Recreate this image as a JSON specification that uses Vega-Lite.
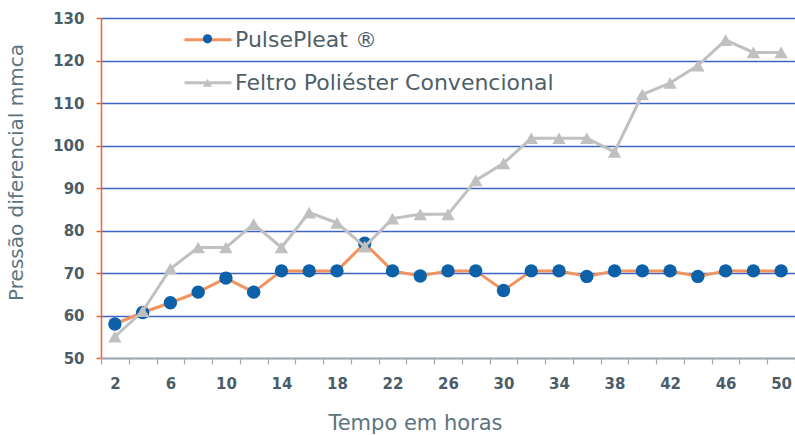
{
  "$schema": "https://vega.github.io/schema/vega-lite/v6.json",
  "width": 694,
  "height": 340,
  "autosize": {"type": "none"},
  "padding": {"left": 101, "top": 18, "right": 0, "bottom": 77},
  "config": {
    "view": {"stroke": null},
    "font": "DejaVu Sans"
  },
  "data": {
    "values": [
      {"t": 2, "serie": "PulsePleat ®", "v": 58},
      {"t": 4, "serie": "PulsePleat ®", "v": 60.7},
      {"t": 6, "serie": "PulsePleat ®", "v": 63},
      {"t": 8, "serie": "PulsePleat ®", "v": 65.5},
      {"t": 10, "serie": "PulsePleat ®", "v": 68.8},
      {"t": 12, "serie": "PulsePleat ®", "v": 65.5},
      {"t": 14, "serie": "PulsePleat ®", "v": 70.5},
      {"t": 16, "serie": "PulsePleat ®", "v": 70.5},
      {"t": 18, "serie": "PulsePleat ®", "v": 70.5},
      {"t": 20, "serie": "PulsePleat ®", "v": 77},
      {"t": 22, "serie": "PulsePleat ®", "v": 70.5},
      {"t": 24, "serie": "PulsePleat ®", "v": 69.3},
      {"t": 26, "serie": "PulsePleat ®", "v": 70.5},
      {"t": 28, "serie": "PulsePleat ®", "v": 70.5},
      {"t": 30, "serie": "PulsePleat ®", "v": 65.9},
      {"t": 32, "serie": "PulsePleat ®", "v": 70.5},
      {"t": 34, "serie": "PulsePleat ®", "v": 70.5},
      {"t": 36, "serie": "PulsePleat ®", "v": 69.2},
      {"t": 38, "serie": "PulsePleat ®", "v": 70.5},
      {"t": 40, "serie": "PulsePleat ®", "v": 70.5},
      {"t": 42, "serie": "PulsePleat ®", "v": 70.5},
      {"t": 44, "serie": "PulsePleat ®", "v": 69.2},
      {"t": 46, "serie": "PulsePleat ®", "v": 70.5},
      {"t": 48, "serie": "PulsePleat ®", "v": 70.5},
      {"t": 50, "serie": "PulsePleat ®", "v": 70.5},
      {"t": 2, "serie": "Feltro Poliéster Convencional", "v": 55},
      {"t": 4, "serie": "Feltro Poliéster Convencional", "v": 61},
      {"t": 6, "serie": "Feltro Poliéster Convencional", "v": 71},
      {"t": 8, "serie": "Feltro Poliéster Convencional", "v": 76},
      {"t": 10, "serie": "Feltro Poliéster Convencional", "v": 76},
      {"t": 12, "serie": "Feltro Poliéster Convencional", "v": 81.5},
      {"t": 14, "serie": "Feltro Poliéster Convencional", "v": 76},
      {"t": 16, "serie": "Feltro Poliéster Convencional", "v": 84.2},
      {"t": 18, "serie": "Feltro Poliéster Convencional", "v": 81.8},
      {"t": 20, "serie": "Feltro Poliéster Convencional", "v": 76.2},
      {"t": 22, "serie": "Feltro Poliéster Convencional", "v": 82.8},
      {"t": 24, "serie": "Feltro Poliéster Convencional", "v": 83.8},
      {"t": 26, "serie": "Feltro Poliéster Convencional", "v": 83.8},
      {"t": 28, "serie": "Feltro Poliéster Convencional", "v": 91.8},
      {"t": 30, "serie": "Feltro Poliéster Convencional", "v": 95.8},
      {"t": 32, "serie": "Feltro Poliéster Convencional", "v": 101.7},
      {"t": 34, "serie": "Feltro Poliéster Convencional", "v": 101.7},
      {"t": 36, "serie": "Feltro Poliéster Convencional", "v": 101.7},
      {"t": 38, "serie": "Feltro Poliéster Convencional", "v": 98.5},
      {"t": 40, "serie": "Feltro Poliéster Convencional", "v": 112},
      {"t": 42, "serie": "Feltro Poliéster Convencional", "v": 114.7},
      {"t": 44, "serie": "Feltro Poliéster Convencional", "v": 118.8},
      {"t": 46, "serie": "Feltro Poliéster Convencional", "v": 124.8},
      {"t": 48, "serie": "Feltro Poliéster Convencional", "v": 121.9},
      {"t": 50, "serie": "Feltro Poliéster Convencional", "v": 121.9}
    ]
  },
  "encoding": {
    "x": {
      "field": "t",
      "type": "ordinal",
      "sort": "ascending",
      "scale": {"paddingInner": 0, "paddingOuter": 0},
      "axis": {
        "title": "Tempo em horas",
        "labelAngle": 0,
        "tickBand": "extent",
        "labelExpr": "(datum.value - 2) % 4 == 0 ? datum.label : ''",
        "domainColor": "#a6a6a6",
        "domainWidth": 1.5,
        "tickColor": "#a6a6a6",
        "tickWidth": 1.2,
        "tickSize": 6,
        "labelFont": "DejaVu Sans",
        "labelFontWeight": "bold",
        "labelFontSize": 15,
        "labelColor": "#4a5d68",
        "labelPadding": 12,
        "titleFont": "DejaVu Sans",
        "titleFontWeight": "normal",
        "titleFontSize": 21,
        "titleColor": "#5c7480",
        "titlePadding": 21,
        "titleX": 314,
        "zindex": 1
      }
    },
    "y": {
      "field": "v",
      "type": "quantitative",
      "scale": {"domain": [50, 130], "nice": false, "zero": false},
      "axis": {
        "title": "Pressão diferencial mmca",
        "values": [50, 60, 70, 80, 90, 100, 110, 120, 130],
        "grid": true,
        "gridColor": "#3e64c4",
        "gridWidth": 1.3,
        "domainColor": "#f0662e",
        "domainWidth": 1.5,
        "tickColor": "#f0662e",
        "tickWidth": 1.5,
        "tickSize": 5,
        "labelFont": "DejaVu Sans",
        "labelFontWeight": "bold",
        "labelFontSize": 15,
        "labelColor": "#4a5d68",
        "labelPadding": 12,
        "titleFont": "DejaVu Sans",
        "titleFontWeight": "normal",
        "titleFontSize": 20,
        "titleColor": "#5c7480",
        "titlePadding": 26,
        "titleY": 154
      }
    }
  },
  "layer": [
    {
      "transform": [{"filter": "datum.serie == 'PulsePleat ®'"}],
      "mark": {"type": "line", "strokeWidth": 3},
      "encoding": {
        "stroke": {
          "field": "serie",
          "type": "nominal",
          "scale": {"domain": ["PulsePleat ®", "Feltro Poliéster Convencional", "-"], "range": ["#f4925e", "#c0c0c0", "#ffffff"]},
          "legend": {
            "orient": "none",
            "legendX": 82,
            "legendY": -3.2,
            "title": null,
            "values": ["PulsePleat ®", "Feltro Poliéster Convencional"],
            "symbolType": "stroke",
            "symbolSize": 2209,
            "symbolStrokeWidth": 3,
            "labelFont": "DejaVu Sans",
            "labelFontSize": 22,
            "labelLimit": 600,
            "labelColor": "#4f5f69",
            "labelOffset": 2,
            "rowPadding": 7,
            "padding": 0,
            "zindex": 1
          }
        }
      }
    },
    {
      "transform": [{"filter": "datum.serie == 'PulsePleat ®'"}],
      "mark": {"type": "point", "filled": true, "opacity": 1, "size": 180, "strokeWidth": 0},
      "encoding": {
        "fill": {
          "field": "serie",
          "type": "nominal",
          "scale": {"domain": ["PulsePleat ®", "Feltro Poliéster Convencional"], "range": ["#0d61a9", "#c0c0c0"]},
          "legend": {
            "orient": "none",
            "legendX": 101.5,
            "legendY": 15.8,
            "title": null,
            "symbolSize": 85,
            "symbolStrokeWidth": 0,
            "labelExpr": "''",
            "labelFontSize": 1,
            "labelOffset": 0,
            "rowPadding": 34,
            "padding": 0,
            "zindex": 2
          }
        },
        "shape": {
          "field": "serie",
          "type": "nominal",
          "scale": {"domain": ["PulsePleat ®", "Feltro Poliéster Convencional"], "range": ["circle", "triangle-up"]}
        }
      }
    },
    {
      "transform": [{"filter": "datum.serie != 'PulsePleat ®'"}],
      "mark": {"type": "line", "strokeWidth": 3},
      "encoding": {
        "stroke": {"field": "serie", "type": "nominal"}
      }
    },
    {
      "transform": [{"filter": "datum.serie != 'PulsePleat ®'"}],
      "mark": {"type": "point", "filled": true, "opacity": 1, "size": 180, "strokeWidth": 0},
      "encoding": {
        "fill": {"field": "serie", "type": "nominal"},
        "shape": {"field": "serie", "type": "nominal"}
      }
    }
  ]
}
